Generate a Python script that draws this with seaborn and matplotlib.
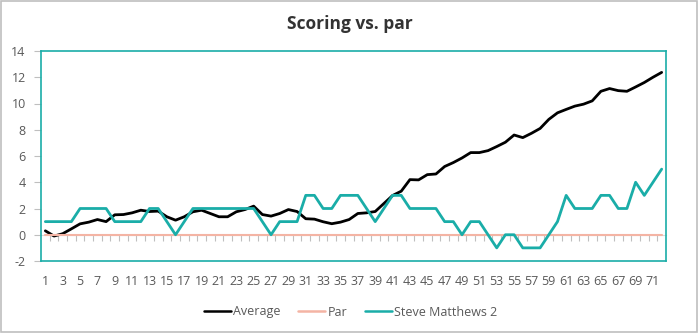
import matplotlib
matplotlib.use("Agg")
import matplotlib.pyplot as plt
import seaborn as sns
import pandas as pd
from matplotlib.patches import Rectangle
from matplotlib.lines import Line2D

holes = list(range(1, 73))
average = [0.3, -0.1, 0.08, 0.45, 0.83, 0.96, 1.16, 1.0, 1.52, 1.54,
           1.67, 1.87, 1.77, 1.8, 1.37, 1.11, 1.37, 1.75, 1.87, 1.62,
           1.37, 1.37, 1.75, 1.92, 2.18, 1.54, 1.42, 1.62, 1.92, 1.77,
           1.22, 1.19, 0.99, 0.84, 0.96, 1.16, 1.62, 1.67, 1.77, 2.38,
           2.99, 3.32, 4.2, 4.18, 4.58, 4.63, 5.2, 5.5, 5.85, 6.26,
           6.26, 6.41, 6.72, 7.05, 7.6, 7.4, 7.73, 8.1, 8.79, 9.29,
           9.55, 9.8, 9.95, 10.2, 10.93, 11.14, 10.98, 10.93, 11.26, 11.6,
           12.0, 12.37]
par = [0, 0, 0, 0, 0, 0, 0, 0, 0, 0, 0, 0, 0, 0, 0, 0, 0, 0, 0, 0,
       0, 0, 0, 0, 0, 0, 0, 0, 0, 0, 0, 0, 0, 0, 0, 0, 0, 0, 0, 0,
       0, 0, 0, 0, 0, 0, 0, 0, 0, 0, 0, 0, 0, 0, 0, 0, 0, 0, 0, 0,
       0, 0, 0, 0, 0, 0, 0, 0, 0, 0, 0, 0]
steve = [1, 1, 1, 1, 2, 2, 2, 2, 1, 1, 1, 1, 2, 2, 1, 0, 1, 2, 2, 2,
         2, 2, 2, 2, 2, 1, 0, 1, 1, 1, 3, 3, 2, 2, 3, 3, 3, 2, 1, 2,
         3, 3, 2, 2, 2, 2, 1, 1, 0, 1, 1, 0, -1, 0, 0, -1, -1, -1, 0, 1,
         3, 2, 2, 2, 3, 3, 2, 2, 4, 3, 4, 5]
series_names = ["Average", "Par", "Steve Matthews 2"]
colors = ["#000000", "#F4B4A4", "#1AADA8"]
title = "Scoring vs. par"
y_ticks = [-2, 0, 2, 4, 6, 8, 10, 12, 14]

df = pd.DataFrame({
    "hole": holes * 3,
    "value": average + par + steve,
    "series": [series_names[0]] * 72 + [series_names[1]] * 72 + [series_names[2]] * 72,
})

sns.set_theme(style="white")
plt.rcParams["font.family"] = ["Open Sans", "DejaVu Sans"]

fig = plt.figure(figsize=(6.99, 3.33), dpi=100)
ax = fig.add_axes([41 / 699, 1 - 261 / 333, 625 / 699, 210 / 333])

# gray axis line at zero with boundary tick marks
sec = ax.secondary_xaxis(0.125)
sec.set_xticks([h + 0.5 for h in holes[:-1]])
sec.set_xticklabels([])
sec.tick_params(axis="x", direction="out", length=4, width=0.8, color="#BFBFBF")
sec.spines["bottom"].set_color("#D9D9D9")
sec.spines["bottom"].set_linewidth(0.8)

widths = {"Average": 2.0, "Par": 1.5, "Steve Matthews 2": 2.0}
for name, col in zip(series_names, colors):
    sub = df[df["series"] == name]
    sns.lineplot(data=sub, x="hole", y="value", color=col, linewidth=widths[name],
                 ax=ax, legend=False, zorder=3)

ax.set_xlim(0.5, 72.5)
ax.set_ylim(-2, 14)
ax.set_yticks(y_ticks)
ax.set_yticklabels([str(v) for v in y_ticks])
ax.set_xticks(holes[::2])
ax.set_xticklabels([str(h) for h in holes[::2]])
ax.tick_params(axis="x", length=0, pad=10, labelsize=9, labelcolor="#595959")
ax.tick_params(axis="y", left=True, direction="out", length=5, width=0.8,
               color="#BFBFBF", pad=6, labelsize=9, labelcolor="#595959")
ax.set_xlabel("")
ax.set_ylabel("")
for s in ax.spines.values():
    s.set_color("#1AADA8")
    s.set_linewidth(1.2)

fig.text(0.5, 1 - 24 / 333, title, ha="center", va="center", fontsize=12.5,
         fontweight="bold", color="#333333")

handles = [Line2D([0], [0], color=c, linewidth=1.8) for c in colors]
fig.legend(handles, series_names, loc="center", bbox_to_anchor=(0.502, 1 - 312 / 333),
           ncol=3, frameon=False, fontsize=9, handlelength=2.15, handletextpad=0.2,
           columnspacing=1.4, labelcolor="#595959")

fig.add_artist(Rectangle((0.001, 0.002), 0.996, 0.996, transform=fig.transFigure,
                         fill=False, edgecolor="#BFBFBF", linewidth=1.2))

fig.savefig("out.png", dpi=100)
